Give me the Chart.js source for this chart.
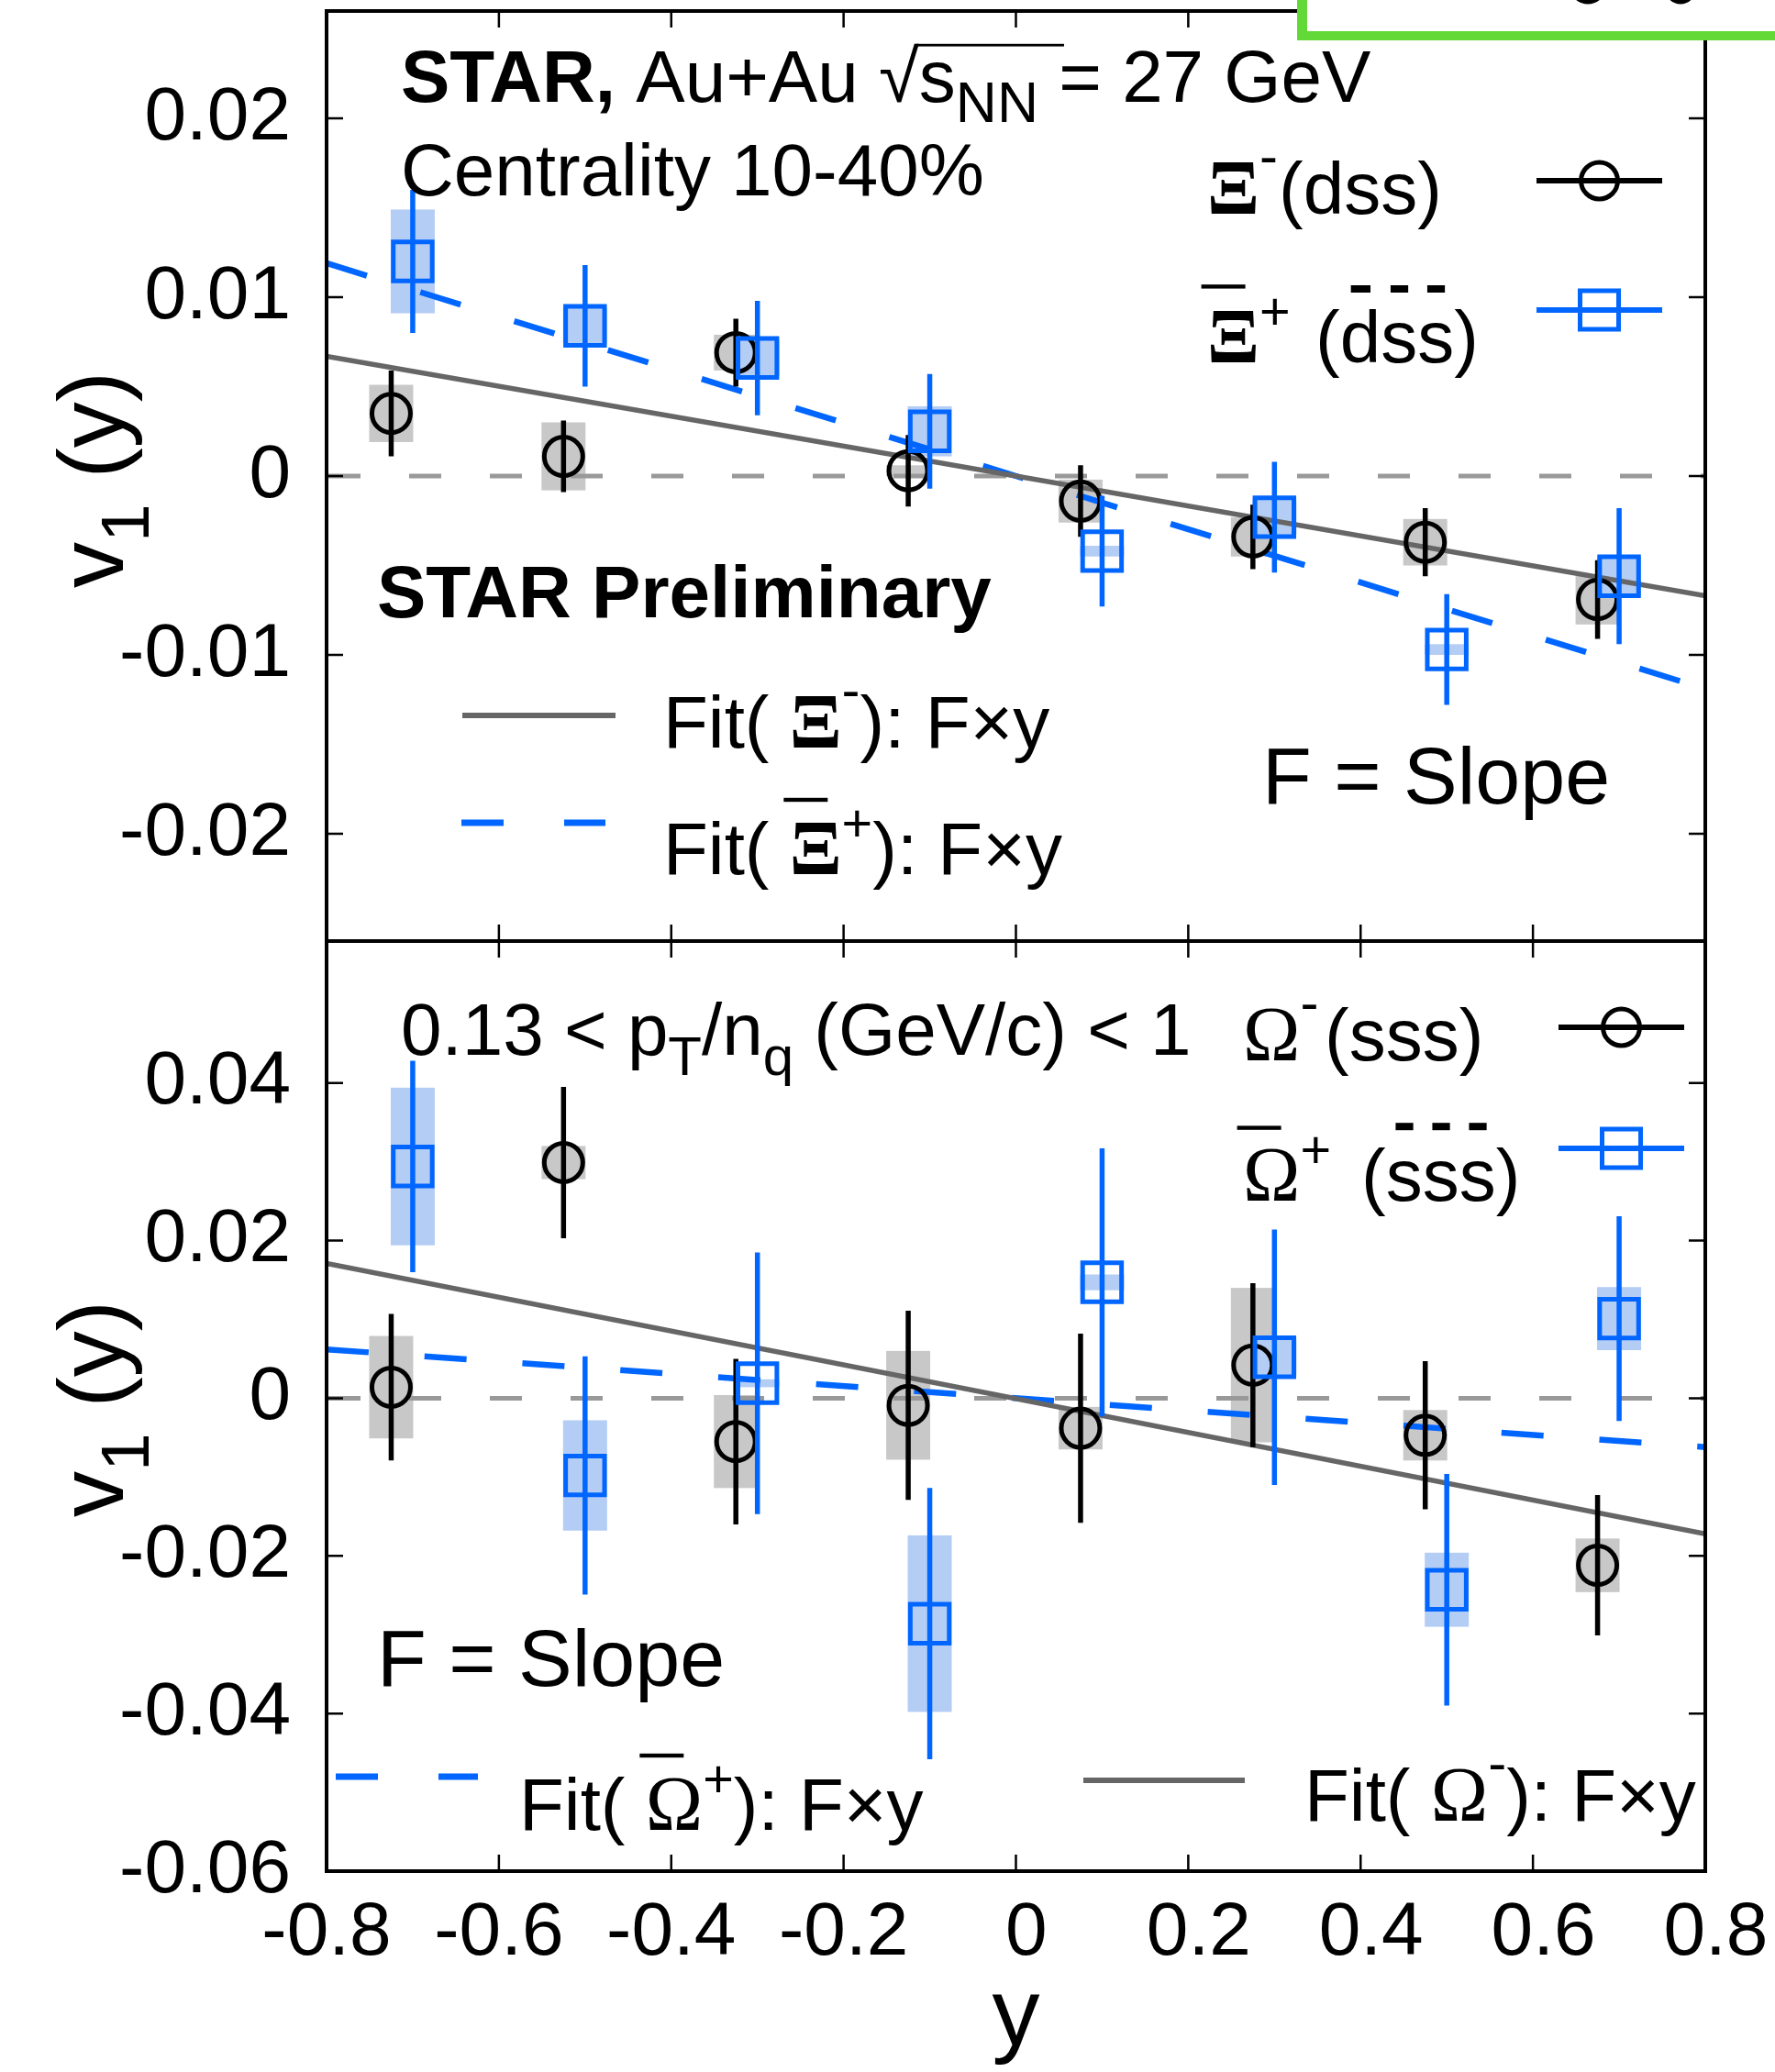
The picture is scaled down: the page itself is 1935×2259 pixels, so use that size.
<!DOCTYPE html>
<html>
<head>
<meta charset="UTF-8">
<title>v1(y) of Xi and Omega, Au+Au 27 GeV</title>
<script src="https://cdn.jsdelivr.net/npm/chart.js"></script>
<style>
  body { margin: 0; background: #fff; width: 1935px; height: 2259px; position: relative; overflow: hidden; }
  canvas { position: absolute; left: 0; }
  #topPanel { top: 0; }
  #bottomPanel { top: 1000px; }
</style>
</head>
<body>
<canvas id="topPanel" width="1935" height="1040"></canvas>
<canvas id="bottomPanel" width="1935" height="1259"></canvas>

<script>
// rapidity bins; particles and antiparticles are shifted a little so the bars don't overlap
const yBinsMinus = [-0.725, -0.525, -0.325, -0.125, 0.075, 0.275, 0.475, 0.675];
const yBinsPlus  = [-0.7, -0.5, -0.3, -0.1, 0.1, 0.3, 0.5, 0.7];

const xRange = [-0.8, 0.8];
const xTicks = [-0.8, -0.6, -0.4, -0.2, 0, 0.2, 0.4, 0.6, 0.8];
const topRange = [-0.026, 0.026];
const topTicks = [-0.02, -0.01, 0, 0.01, 0.02];
const bottomRange = [-0.06, 0.058];
const bottomTicks = [-0.06, -0.04, -0.02, 0, 0.02, 0.04];

// Xi- (dss)
const xiMinusV1   = [0.0035, 0.0011, 0.0069, 0.0003, -0.0014, -0.0034, -0.0037, -0.0069];
const xiMinusStat = [0.0024, 0.0020, 0.0019, 0.0020, 0.0020, 0.0018, 0.0019, 0.0022];
const xiMinusSys  = [0.0016, 0.0019, 0.0010, 0.0003, 0.0012, 0.0011, 0.0013, 0.0014];
// anti-Xi+
const xiPlusV1   = [0.0120, 0.0084, 0.0066, 0.0025, -0.0042, -0.0023, -0.0097, -0.0056];
const xiPlusStat = [0.0040, 0.0034, 0.0032, 0.0032, 0.0031, 0.0031, 0.0031, 0.0038];
const xiPlusSys  = [0.0029, 0.0010, 0.0010, 0.0014, 0.0003, 0.0010, 0.0003, 0.0011];
// Omega- (sss)
const omegaMinusV1   = [0.0014, 0.0299, -0.0055, -0.0009, -0.0038, 0.0042, -0.0047, -0.0212];
const omegaMinusStat = [0.0093, 0.0096, 0.0105, 0.0120, 0.0120, 0.0104, 0.0094, 0.0089];
const omegaMinusSys  = [0.0065, 0.0021, 0.0059, 0.0069, 0.0027, 0.0098, 0.0032, 0.0034];
// anti-Omega+
const omegaPlusV1   = [0.0294, -0.0098, 0.0019, -0.0286, 0.0147, 0.0052, -0.0243, 0.0101];
const omegaPlusStat = [0.0134, 0.0151, 0.0166, 0.0172, 0.0170, 0.0162, 0.0147, 0.0130];
const omegaPlusSys  = [0.0100, 0.0070, 0.0005, 0.0112, 0.0010, 0.0023, 0.0047, 0.0040];

// linear fits F*y, value at the two ends of xRange
const fitXiMinus    = [0.0067, -0.0067];
const fitXiPlus     = [0.0119, -0.0119];
const fitOmegaMinus = [0.0171, -0.0172];
const fitOmegaPlus  = [0.0062, -0.0062];

const SANS = '"Liberation Sans", Arial, Helvetica, sans-serif';
const SERIF = '"Liberation Serif", "Times New Roman", serif';
const BLUE = '#0066ff';
const BLUE_SYS = '#b4cdf5';
const GREY_SYS = '#c8c8c8';
const FIT_GREY = '#666666';

const points = (xs, vs) => xs.map((x, i) => ({x, y: vs[i]}));
const ends = v => xRange.map((x, i) => ({x, y: v[i]}));

function markerSet(label, xs, vs, stat, sys, color, sysColor, style, order) {
  return {
    label, order, stat, sys, sysColor,
    data: points(xs, vs),
    showLine: false,
    pointStyle: style,
    pointRadius: style === 'rect' ? 30 : 21,
    pointBorderWidth: 5,
    pointBorderColor: color,
    pointBackgroundColor: 'rgba(0,0,0,0)',
    borderColor: color
  };
}

function fitSet(label, v, color, width, dash) {
  return {
    label, order: 3,
    data: ends(v),
    showLine: true,
    pointRadius: 0,
    borderColor: color,
    borderWidth: width,
    borderDash: dash
  };
}

// text with sub/superscripts, overlines and a square root
function richText(ctx, x, y, size, runs) {
  let cx = x;
  let radStart = null;
  ctx.textAlign = 'left';
  ctx.textBaseline = 'alphabetic';
  for (const r of runs) {
    if (r.at !== undefined) cx = r.at;
    const fs = size * (r.scale || 1);
    ctx.font = (r.bold ? 'bold ' : '') + fs + 'px ' + (r.serif ? SERIF : SANS);
    ctx.fillText(r.text, cx, y + (r.dy || 0) * size);
    const w = ctx.measureText(r.text).width;
    if (r.bar) {
      ctx.fillRect(cx - 0.08 * size, y - r.bar * size, 0.6 * size, 0.055 * size);
    }
    if (r.dots) {
      let lx = cx;
      for (const ch of r.text) {
        const cw = ctx.measureText(ch).width;
        ctx.fillRect(lx + cw * 0.27, y - r.dots * size, cw * 0.48, 0.1 * size);
        lx += cw;
      }
    }
    if (r.radical) radStart = cx + w * 0.92;
    if (r.radEnd && radStart !== null) {
      ctx.fillRect(radStart, y - 0.79 * size, cx + w + 0.35 * size - radStart, 0.035 * size);
    }
    cx += w;
  }
  return cx;
}

function yTitle(ctx, x, y) {
  ctx.save();
  ctx.translate(x, y);
  ctx.rotate(-Math.PI / 2);
  ctx.fillStyle = '#000';
  richText(ctx, 0, 0, 100, [
    {text: 'v'}, {text: '1', scale: 0.75, dy: 0.28}, {text: ' (y)'}
  ]);
  ctx.restore();
}

function sampleMarker(ctx, x0, x1, y, color, style) {
  const xc = (x0 + x1) / 2;
  ctx.save();
  ctx.strokeStyle = color;
  ctx.lineWidth = 6;
  ctx.beginPath();
  ctx.moveTo(x0, y);
  ctx.lineTo(x1, y);
  ctx.stroke();
  ctx.lineWidth = 5;
  ctx.beginPath();
  if (style === 'rect') ctx.rect(xc - 21, y - 21, 42, 42);
  else ctx.arc(xc, y, 20, 0, Math.PI * 2);
  ctx.stroke();
  ctx.restore();
}

function sampleLine(ctx, x0, x1, y, color, width, dash) {
  ctx.save();
  ctx.strokeStyle = color;
  ctx.lineWidth = width;
  ctx.setLineDash(dash);
  ctx.beginPath();
  ctx.moveTo(x0, y);
  ctx.lineTo(x1, y);
  ctx.stroke();
  ctx.restore();
}

// systematic boxes, the zero line and statistical bars
function errorBars() {
  return {
    id: 'errorBars',
    beforeDatasetsDraw(chart) {
      const {ctx, chartArea: a, scales: {x, y}} = chart;
      ctx.save();
      ctx.beginPath();
      ctx.rect(a.left, a.top, a.right - a.left, a.bottom - a.top);
      ctx.clip();
      chart.data.datasets.forEach(ds => {
        if (!ds.sys) return;
        ctx.fillStyle = ds.sysColor;
        ds.data.forEach((p, i) => {
          const px = x.getPixelForValue(p.x);
          const t = y.getPixelForValue(p.y + ds.sys[i]);
          const b = y.getPixelForValue(p.y - ds.sys[i]);
          ctx.fillRect(px - 24, t, 48, Math.max(b - t, 4));
        });
      });
      const y0 = y.getPixelForValue(0);
      ctx.strokeStyle = '#999999';
      ctx.lineWidth = 5;
      ctx.setLineDash([35, 53]);
      ctx.beginPath();
      ctx.moveTo(x.getPixelForValue(xRange[0]) + 2, y0);
      ctx.lineTo(x.getPixelForValue(xRange[1]), y0);
      ctx.stroke();
      ctx.restore();
    },
    beforeDatasetDraw(chart, args) {
      const ds = chart.data.datasets[args.index];
      if (!ds.stat) return;
      const {ctx, chartArea: a, scales: {x, y}} = chart;
      ctx.save();
      ctx.beginPath();
      ctx.rect(a.left, a.top, a.right - a.left, a.bottom - a.top);
      ctx.clip();
      ctx.strokeStyle = ds.pointBorderColor;
      ctx.lineWidth = 5.5;
      ctx.beginPath();
      ds.data.forEach((p, i) => {
        const px = x.getPixelForValue(p.x);
        ctx.moveTo(px, y.getPixelForValue(p.y + ds.stat[i]));
        ctx.lineTo(px, y.getPixelForValue(p.y - ds.stat[i]));
      });
      ctx.stroke();
      ctx.restore();
    }
  };
}

// box around the panel with inward ticks on all four sides
function panelFrame(yTickValues) {
  return {
    id: 'panelFrame',
    afterDraw(chart) {
      const {ctx, chartArea: a, scales: {x, y}} = chart;
      ctx.save();
      ctx.strokeStyle = '#000';
      ctx.lineWidth = 2.5;
      ctx.beginPath();
      xTicks.forEach(v => {
        const px = x.getPixelForValue(v);
        if (px < a.left + 2 || px > a.right - 2) return;
        ctx.moveTo(px, a.bottom); ctx.lineTo(px, a.bottom - 18);
        ctx.moveTo(px, a.top); ctx.lineTo(px, a.top + 18);
      });
      yTickValues.forEach(v => {
        const py = y.getPixelForValue(v);
        if (py < a.top + 2 || py > a.bottom - 2) return;
        ctx.moveTo(a.left, py); ctx.lineTo(a.left + 18, py);
        ctx.moveTo(a.right, py); ctx.lineTo(a.right - 18, py);
      });
      ctx.stroke();
      ctx.lineWidth = 4;
      ctx.strokeRect(a.left, a.top, a.right - a.left, a.bottom - a.top);
      ctx.restore();
    }
  };
}

function makePanel(canvasId, o) {
  const tickFont = {family: SANS, size: 82};
  return new Chart(document.getElementById(canvasId), {
    type: 'scatter',
    data: {datasets: o.datasets},
    options: {
      responsive: false,
      animation: false,
      events: [],
      devicePixelRatio: 1,
      layout: {autoPadding: false, padding: o.padding},
      plugins: {legend: {display: false}, tooltip: {enabled: false}},
      scales: {
        x: {
          type: 'linear',
          min: xRange[0],
          max: xRange[1],
          display: o.showX,
          grid: {display: false, drawTicks: false},
          border: {display: false},
          afterBuildTicks: s => { s.ticks = xTicks.map(value => ({value})); },
          afterFit: s => { s.height = o.xHeight; s.paddingLeft = 0; s.paddingRight = 0; },
          // positive labels sit a little right of their tick, as if a minus sign were reserved
          ticks: {autoSkip: false, maxRotation: 0, padding: 19, color: '#000', font: tickFont,
                  callback: v => (v >= 0 ? ' ' : '') + String(v)},
          title: {display: o.showX, text: 'y', color: '#000', font: {family: SANS, size: 104, lineHeight: 1}, padding: {top: 0, bottom: 7}}
        },
        y: {
          type: 'linear',
          min: o.yRange[0],
          max: o.yRange[1],
          grid: {display: false, drawTicks: false},
          border: {display: false},
          afterBuildTicks: s => { s.ticks = o.yTicks.map(value => ({value})); },
          afterFit: s => { s.width = 356; s.paddingTop = 0; s.paddingBottom = 0; },
          ticks: {autoSkip: false, padding: 39, color: '#000', font: tickFont, callback: v => String(v)}
        }
      }
    },
    plugins: [errorBars(), panelFrame(o.yTicks), {id: 'notes', afterDraw: chart => o.notes(chart.ctx)}]
  });
}

// upper panel: Xi
makePanel('topPanel', {
  padding: {left: 0, right: 76, top: 12, bottom: 14},
  showX: false,
  xHeight: 0,
  yRange: topRange,
  yTicks: topTicks,
  datasets: [
    fitSet('Fit Xi-', fitXiMinus, FIT_GREY, 5.5, []),
    fitSet('Fit anti-Xi+', fitXiPlus, BLUE, 6.5, [46, 61]),
    markerSet('Xi-', yBinsMinus, xiMinusV1, xiMinusStat, xiMinusSys, '#000', GREY_SYS, 'circle', 2),
    markerSet('anti-Xi+', yBinsPlus, xiPlusV1, xiPlusStat, xiPlusSys, BLUE, BLUE_SYS, 'rect', 1)
  ],
  notes(ctx) {
    ctx.save();
    ctx.fillStyle = '#000';
    yTitle(ctx, 134, 641);
    richText(ctx, 437, 111, 80, [
      {text: 'STAR,', bold: true},
      {text: ' Au+Au '},
      {text: '\u221A', radical: true},
      {text: 's'},
      {text: 'NN', scale: 0.78, dy: 0.28, radEnd: true},
      {text: ' = 27 GeV'}
    ]);
    richText(ctx, 437, 213, 80, [{text: 'Centrality 10-40%'}]);

    richText(ctx, 1316, 233, 80, [
      {text: '\u039E', serif: true, bold: true, scale: 1.05},
      {text: '-', scale: 0.75, dy: -0.54},
      {text: '(dss)', at: 1394}
    ]);
    richText(ctx, 1316, 395, 80, [
      {text: '\u039E', serif: true, bold: true, scale: 1.05, bar: 1.06},
      {text: '+', scale: 0.72, dy: -0.45},
      {text: '(', at: 1434},
      {text: 'dss', dots: 1.05},
      {text: ')'}
    ]);
    sampleMarker(ctx, 1675, 1812, 197, '#000', 'circle');
    sampleMarker(ctx, 1675, 1812, 338, BLUE, 'rect');

    richText(ctx, 411, 673, 80, [{text: 'STAR Preliminary', bold: true}]);

    sampleLine(ctx, 504, 671, 780, FIT_GREY, 6, []);
    richText(ctx, 723, 815, 80, [
      {text: 'Fit( '},
      {text: '\u039E', serif: true, bold: true, scale: 1.05},
      {text: '-', scale: 0.75, dy: -0.54},
      {text: '): F\u00D7y'}
    ]);
    sampleLine(ctx, 503, 660, 897, BLUE, 7, [46, 66]);
    richText(ctx, 723, 953, 80, [
      {text: 'Fit( '},
      {text: '\u039E', serif: true, bold: true, scale: 1.05, bar: 1.04},
      {text: '+', scale: 0.72, dy: -0.45},
      {text: '): F\u00D7y'}
    ]);
    richText(ctx, 1376, 876, 88, [{text: 'F = Slope'}]);

    // green frame sticking in at the top right corner
    ctx.fillStyle = '#fff';
    ctx.fillRect(1414, 0, 521, 44);
    ctx.fillStyle = '#62d936';
    ctx.fillRect(1414, 0, 11, 44);
    ctx.fillRect(1414, 34, 521, 10);
    ctx.strokeStyle = '#000';
    ctx.lineWidth = 5;
    ctx.beginPath();
    ctx.ellipse(1731, -14, 17, 16, 0, 0, Math.PI);
    ctx.stroke();
    ctx.beginPath();
    ctx.ellipse(1832, -14, 15, 16, 0, 0, Math.PI);
    ctx.stroke();
    ctx.restore();
  }
});

// lower panel: Omega
makePanel('bottomPanel', {
  padding: {left: 0, right: 76, top: 26, bottom: 0},
  showX: true,
  xHeight: 219,
  yRange: bottomRange,
  yTicks: bottomTicks,
  datasets: [
    fitSet('Fit Omega-', fitOmegaMinus, FIT_GREY, 5.5, []),
    fitSet('Fit anti-Omega+', fitOmegaPlus, BLUE, 6.5, [46, 61]),
    markerSet('Omega-', yBinsMinus, omegaMinusV1, omegaMinusStat, omegaMinusSys, '#000', GREY_SYS, 'circle', 2),
    markerSet('anti-Omega+', yBinsPlus, omegaPlusV1, omegaPlusStat, omegaPlusSys, BLUE, BLUE_SYS, 'rect', 1)
  ],
  notes(ctx) {
    ctx.save();
    ctx.fillStyle = '#000';
    yTitle(ctx, 134, 654);
    richText(ctx, 437, 150, 80, [
      {text: '0.13 < p'},
      {text: 'T', scale: 0.75, dy: 0.28},
      {text: '/n'},
      {text: 'q', scale: 0.75, dy: 0.28},
      {text: ' (GeV/c) < 1'}
    ]);
    richText(ctx, 1355, 156, 80, [
      {text: '\u03A9', serif: true, scale: 1.05},
      {text: '-', scale: 0.75, dy: -0.54},
      {text: '(sss)', at: 1444}
    ]);
    richText(ctx, 1355, 309, 80, [
      {text: '\u03A9', serif: true, scale: 1.05, bar: 1.02},
      {text: '+', scale: 0.72, dy: -0.45},
      {text: '(', at: 1484},
      {text: 'sss', dots: 1.06},
      {text: ')'}
    ]);
    sampleMarker(ctx, 1699, 1836, 120, '#000', 'circle');
    sampleMarker(ctx, 1699, 1836, 252, BLUE, 'rect');

    richText(ctx, 411, 838, 88, [{text: 'F = Slope'}]);

    sampleLine(ctx, 366, 521, 937, BLUE, 7, [46, 66]);
    richText(ctx, 566, 995, 80, [
      {text: 'Fit( '},
      {text: '\u03A9', serif: true, scale: 1.05, bar: 1.04},
      {text: '+', scale: 0.72, dy: -0.45},
      {text: '): F\u00D7y'}
    ]);
    sampleLine(ctx, 1181, 1357, 941, FIT_GREY, 6, []);
    richText(ctx, 1422, 985, 80, [
      {text: 'Fit( '},
      {text: '\u03A9', serif: true, scale: 1.05},
      {text: '-', scale: 0.75, dy: -0.54},
      {text: '): F\u00D7y'}
    ]);
    ctx.restore();
  }
});
</script>
</body>
</html>
